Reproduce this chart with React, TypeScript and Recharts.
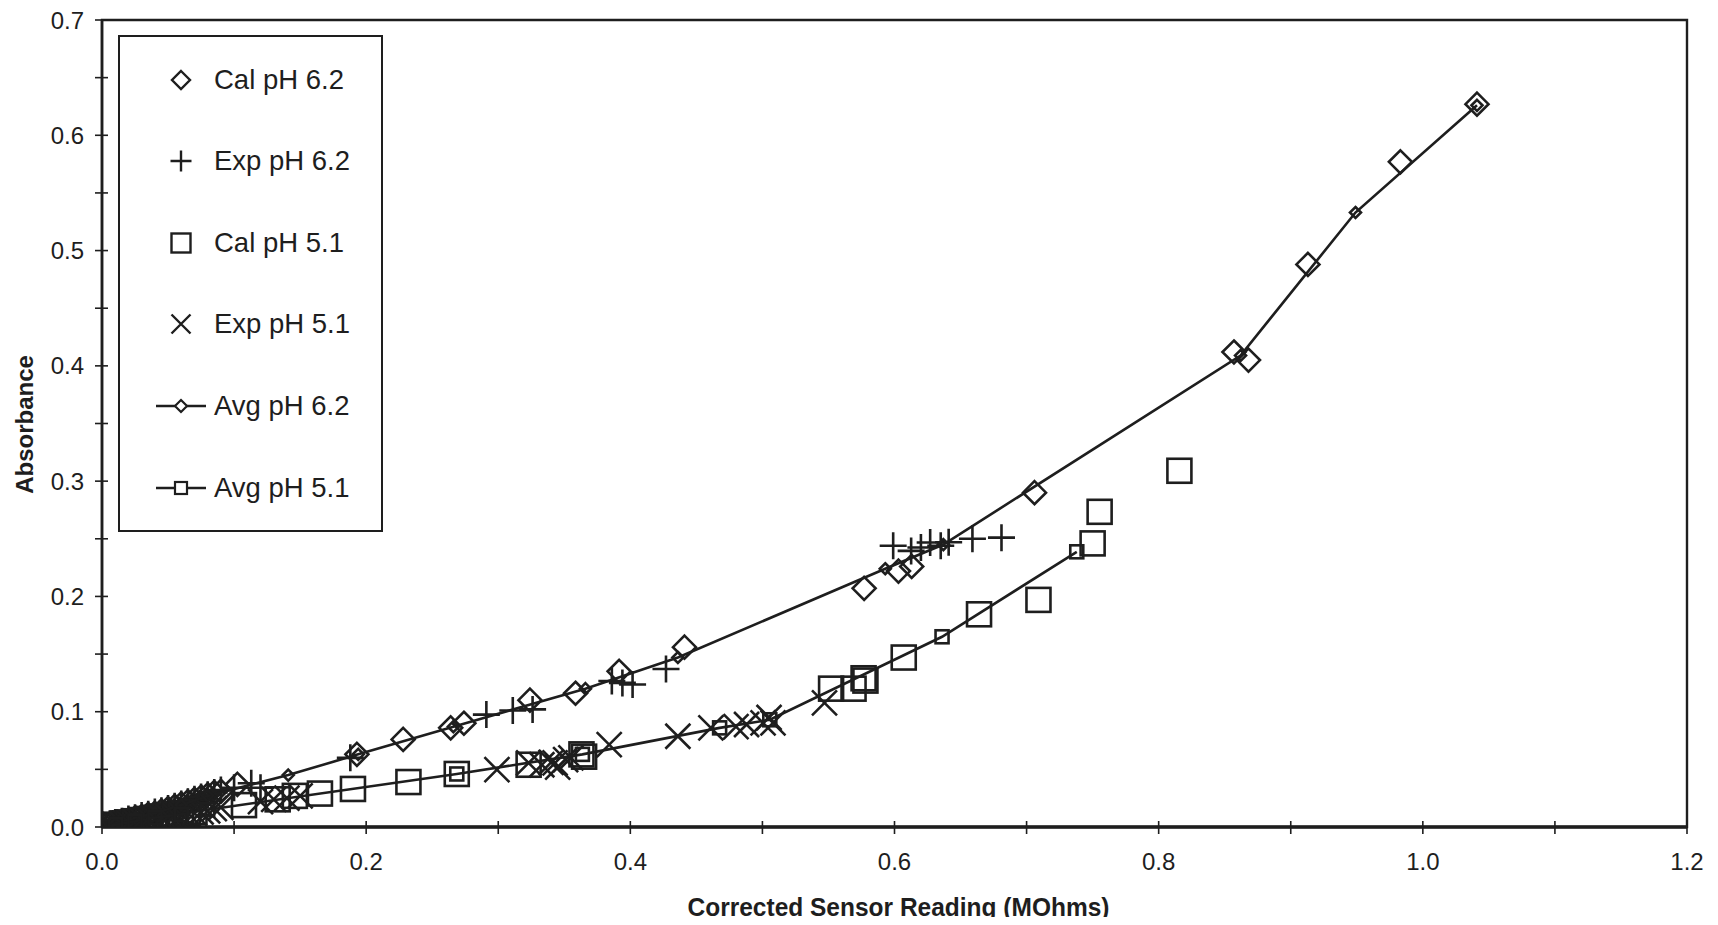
import React from 'react';
import { ScatterChart, Scatter, XAxis, YAxis, ReferenceArea, Legend } from 'recharts';

type P = { x: number; y: number };

const xTicks = [0, 0.1, 0.2, 0.3, 0.4, 0.5, 0.6, 0.7, 0.8, 0.9, 1.0, 1.1, 1.2];
const yTicks = [0, 0.05, 0.1, 0.15, 0.2, 0.25, 0.3, 0.35, 0.4, 0.45, 0.5, 0.55, 0.6, 0.65, 0.7];

const calPh62: P[] = [
  { x: 0.0, y: 0.0 }, { x: 0.006, y: 0.002 }, { x: 0.012, y: 0.004 }, { x: 0.015, y: 0.005 },
  { x: 0.02, y: 0.006 }, { x: 0.025, y: 0.008 }, { x: 0.03, y: 0.009 }, { x: 0.035, y: 0.011 },
  { x: 0.04, y: 0.012 }, { x: 0.045, y: 0.014 }, { x: 0.05, y: 0.016 }, { x: 0.055, y: 0.018 },
  { x: 0.06, y: 0.02 }, { x: 0.065, y: 0.022 }, { x: 0.07, y: 0.024 }, { x: 0.075, y: 0.026 },
  { x: 0.08, y: 0.028 }, { x: 0.085, y: 0.03 }, { x: 0.09, y: 0.031 }, { x: 0.1025, y: 0.037 },
  { x: 0.193, y: 0.063 }, { x: 0.228, y: 0.076 }, { x: 0.264, y: 0.086 }, { x: 0.274, y: 0.09 },
  { x: 0.324, y: 0.11 }, { x: 0.3585, y: 0.116 }, { x: 0.3915, y: 0.135 }, { x: 0.441, y: 0.156 },
  { x: 0.577, y: 0.207 }, { x: 0.603, y: 0.222 }, { x: 0.613, y: 0.226 }, { x: 0.706, y: 0.29 },
  { x: 0.857, y: 0.412 }, { x: 0.868, y: 0.405 }, { x: 0.913, y: 0.488 }, { x: 0.983, y: 0.577 },
  { x: 1.041, y: 0.627 },
];

const expPh62: P[] = [
  { x: 0.0, y: 0.0 }, { x: 0.003, y: 0.001 }, { x: 0.008, y: 0.003 }, { x: 0.01, y: 0.004 },
  { x: 0.015, y: 0.005 }, { x: 0.02, y: 0.007 }, { x: 0.025, y: 0.008 }, { x: 0.03, y: 0.01 },
  { x: 0.035, y: 0.011 }, { x: 0.04, y: 0.013 }, { x: 0.045, y: 0.014 }, { x: 0.05, y: 0.016 },
  { x: 0.055, y: 0.018 }, { x: 0.06, y: 0.02 }, { x: 0.065, y: 0.022 }, { x: 0.07, y: 0.024 },
  { x: 0.075, y: 0.026 }, { x: 0.08, y: 0.028 }, { x: 0.085, y: 0.03 }, { x: 0.09, y: 0.032 },
  { x: 0.1, y: 0.034 }, { x: 0.113, y: 0.038 }, { x: 0.12, y: 0.034 }, { x: 0.188, y: 0.06 },
  { x: 0.291, y: 0.0975 }, { x: 0.311, y: 0.101 }, { x: 0.326, y: 0.102 }, { x: 0.386, y: 0.1266 },
  { x: 0.394, y: 0.125 }, { x: 0.4017, y: 0.1236 }, { x: 0.427, y: 0.137 }, { x: 0.599, y: 0.244 },
  { x: 0.6126, y: 0.2395 }, { x: 0.62, y: 0.2425 }, { x: 0.627, y: 0.2468 }, { x: 0.635, y: 0.244 },
  { x: 0.641, y: 0.247 }, { x: 0.659, y: 0.25 }, { x: 0.681, y: 0.251 },
];

const calPh51: P[] = [
  { x: 0.0, y: 0.001 }, { x: 0.003, y: 0.0 }, { x: 0.008, y: 0.001 }, { x: 0.01, y: 0.002 },
  { x: 0.015, y: 0.003 }, { x: 0.02, y: 0.004 }, { x: 0.025, y: 0.005 }, { x: 0.03, y: 0.006 },
  { x: 0.035, y: 0.007 }, { x: 0.04, y: 0.008 }, { x: 0.045, y: 0.009 }, { x: 0.05, y: 0.01 },
  { x: 0.055, y: 0.011 }, { x: 0.06, y: 0.012 }, { x: 0.065, y: 0.012 }, { x: 0.07, y: 0.013 },
  { x: 0.1075, y: 0.019 }, { x: 0.133, y: 0.024 }, { x: 0.146, y: 0.027 }, { x: 0.165, y: 0.029 },
  { x: 0.19, y: 0.033 }, { x: 0.232, y: 0.039 }, { x: 0.2686, y: 0.046 }, { x: 0.323, y: 0.054 },
  { x: 0.363, y: 0.063 }, { x: 0.365, y: 0.061 }, { x: 0.552, y: 0.12 }, { x: 0.569, y: 0.12 },
  { x: 0.5766, y: 0.129 }, { x: 0.578, y: 0.127 }, { x: 0.607, y: 0.147 }, { x: 0.664, y: 0.1845 },
  { x: 0.709, y: 0.197 }, { x: 0.75, y: 0.246 }, { x: 0.7553, y: 0.2734 }, { x: 0.8157, y: 0.309 },
];

const expPh51: P[] = [
  { x: 0.0, y: 0.0 }, { x: 0.005, y: 0.001 }, { x: 0.01, y: 0.002 }, { x: 0.015, y: 0.003 },
  { x: 0.02, y: 0.004 }, { x: 0.025, y: 0.005 }, { x: 0.03, y: 0.006 }, { x: 0.035, y: 0.007 },
  { x: 0.04, y: 0.007 }, { x: 0.045, y: 0.008 }, { x: 0.05, y: 0.009 }, { x: 0.055, y: 0.01 },
  { x: 0.06, y: 0.011 }, { x: 0.065, y: 0.012 }, { x: 0.07, y: 0.012 }, { x: 0.075, y: 0.013 },
  { x: 0.08, y: 0.014 }, { x: 0.085, y: 0.016 }, { x: 0.09, y: 0.017 }, { x: 0.12, y: 0.022 },
  { x: 0.13, y: 0.024 }, { x: 0.14, y: 0.025 }, { x: 0.15, y: 0.027 }, { x: 0.299, y: 0.0497 },
  { x: 0.323, y: 0.0556 }, { x: 0.333, y: 0.054 }, { x: 0.34, y: 0.056 }, { x: 0.343, y: 0.0556 },
  { x: 0.345, y: 0.052 }, { x: 0.351, y: 0.0585 }, { x: 0.355, y: 0.06 }, { x: 0.384, y: 0.0715 },
  { x: 0.436, y: 0.0787 }, { x: 0.461, y: 0.086 }, { x: 0.48, y: 0.087 }, { x: 0.488, y: 0.0889 },
  { x: 0.5005, y: 0.0903 }, { x: 0.505, y: 0.095 }, { x: 0.508, y: 0.0903 }, { x: 0.547, y: 0.1077 },
];

const avgPh62: P[] = [
  { x: 0.0, y: 0.0 }, { x: 0.01, y: 0.003 }, { x: 0.025, y: 0.008 }, { x: 0.04, y: 0.012 },
  { x: 0.06, y: 0.019 }, { x: 0.08, y: 0.027 }, { x: 0.141, y: 0.045 }, { x: 0.194, y: 0.063 },
  { x: 0.266, y: 0.087 }, { x: 0.366, y: 0.12 }, { x: 0.436, y: 0.147 }, { x: 0.593, y: 0.224 },
  { x: 0.637, y: 0.245 }, { x: 0.862, y: 0.409 }, { x: 0.949, y: 0.533 }, { x: 1.041, y: 0.626 },
];

const avgPh51: P[] = [
  { x: 0.0, y: 0.0 }, { x: 0.01, y: 0.002 }, { x: 0.025, y: 0.005 }, { x: 0.04, y: 0.008 },
  { x: 0.06, y: 0.011 }, { x: 0.08, y: 0.015 }, { x: 0.2686, y: 0.046 }, { x: 0.3637, y: 0.063 },
  { x: 0.4676, y: 0.086 }, { x: 0.5056, y: 0.093 }, { x: 0.636, y: 0.165 }, { x: 0.738, y: 0.2387 },
];

const legendItems = ['Cal pH 6.2', 'Exp pH 6.2', 'Cal pH 5.1', 'Exp pH 5.1', 'Avg pH 6.2', 'Avg pH 5.1'];

const INK = '#1e1e1e';
const FONT = '"Liberation Sans", Arial, Helvetica, sans-serif';
const MW = 2.6;

const diamondPath = (cx: number, cy: number, r: number) =>
  `M${cx},${cy - r}L${cx + r},${cy}L${cx},${cy + r}L${cx - r},${cy}Z`;

const Diamond = ({ cx, cy, r, w = MW }: { cx: number; cy: number; r: number; w?: number }) => (
  <path d={diamondPath(cx, cy, r)} fill="none" stroke={INK} strokeWidth={w} />
);
const Square = ({ cx, cy, r, w = MW }: { cx: number; cy: number; r: number; w?: number }) => (
  <rect x={cx - r} y={cy - r} width={2 * r} height={2 * r} fill="none" stroke={INK} strokeWidth={w} />
);
const Plus = ({ cx, cy, r, w = MW }: { cx: number; cy: number; r: number; w?: number }) => (
  <path d={`M${cx - r},${cy}H${cx + r}M${cx},${cy - r}V${cy + r}`} stroke={INK} strokeWidth={w} fill="none" />
);
const Cross = ({ cx, cy, r, w = MW }: { cx: number; cy: number; r: number; w?: number }) => (
  <path d={`M${cx - r},${cy - r}L${cx + r},${cy + r}M${cx + r},${cy - r}L${cx - r},${cy + r}`} stroke={INK} strokeWidth={w} fill="none" />
);

const shapeOf = (kind: string, r: number) => (props: any) => {
  const { cx, cy } = props;
  if (cx == null || cy == null) return <g />;
  if (kind === 'diamond') return <Diamond cx={cx} cy={cy} r={r} />;
  if (kind === 'square') return <Square cx={cx} cy={cy} r={r} />;
  if (kind === 'plus') return <Plus cx={cx} cy={cy} r={r} />;
  return <Cross cx={cx} cy={cy} r={r} />;
};

const XTick = (props: any) => {
  const { x, y, payload } = props;
  const v = payload.value as number;
  const major = Math.round(v * 10) % 2 === 0;
  return (
    <g>
      <line x1={x} x2={x} y1={y - 6} y2={y + 7} stroke={INK} strokeWidth={1.6} />
      {major && (
        <text x={x} y={y + 34} textAnchor="middle" dominantBaseline="central" fontFamily={FONT} fontSize={24} fill={INK}>
          {v.toFixed(1)}
        </text>
      )}
    </g>
  );
};

const YTick = (props: any) => {
  const { x, y, payload } = props;
  const v = payload.value as number;
  const major = Math.round(v * 100) % 10 === 0;
  const ax = x + 18;
  return (
    <g>
      <line x1={ax - 7} x2={ax + 6} y1={y} y2={y} stroke={INK} strokeWidth={1.6} />
      {major && (
        <text x={x} y={y} textAnchor="end" dominantBaseline="central" fontFamily={FONT} fontSize={24} fill={INK}>
          {v.toFixed(1)}
        </text>
      )}
    </g>
  );
};

const LegendIcon = ({ idx }: { idx: number }) => {
  const cx = 30;
  const cy = 17;
  let body: React.ReactNode = null;
  if (idx === 0) body = <Diamond cx={cx} cy={cy} r={9} w={2.4} />;
  else if (idx === 1) body = <Plus cx={cx} cy={cy} r={10.5} w={2.4} />;
  else if (idx === 2) body = <Square cx={cx} cy={cy} r={9.5} w={2.4} />;
  else if (idx === 3) body = <Cross cx={cx} cy={cy} r={9.5} w={2.4} />;
  else if (idx === 4)
    body = (
      <g>
        <line x1={5} x2={55} y1={cy} y2={cy} stroke={INK} strokeWidth={2.4} />
        <path d={diamondPath(cx, cy, 6)} fill="#fff" stroke={INK} strokeWidth={2.2} />
      </g>
    );
  else
    body = (
      <g>
        <line x1={5} x2={55} y1={cy} y2={cy} stroke={INK} strokeWidth={2.4} />
        <rect x={cx - 6} y={cy - 6} width={12} height={12} fill="#fff" stroke={INK} strokeWidth={2.2} />
      </g>
    );
  return (
    <svg width={60} height={34} style={{ position: 'absolute', left: 31, top: 0 }}>
      {body}
    </svg>
  );
};

const LegendBox = () => (
  <div
    style={{
      width: 265,
      height: 497,
      boxSizing: 'border-box',
      border: `2.5px solid ${INK}`,
      background: '#fff',
      position: 'relative',
      fontFamily: FONT,
    }}
  >
    {legendItems.map((name, i) => (
      <div key={name} style={{ position: 'absolute', left: 0, top: 45 + i * 81.6 - 17 - 2.5, width: 260, height: 34 }}>
        <LegendIcon idx={i} />
        <div style={{ position: 'absolute', left: 94, top: 0, height: 34, lineHeight: '34px', fontSize: 27.5, color: INK, whiteSpace: 'nowrap' }}>
          {name}
        </div>
      </div>
    ))}
  </div>
);

const XTitle = (props: any) => {
  const vb = props.viewBox || { x: 102, y: 827, width: 1585, height: 98 };
  return (
    <text
      x={vb.x + vb.width / 2 + 4}
      y={vb.y + 80}
      textAnchor="middle"
      dominantBaseline="central"
      fontFamily={FONT}
      fontWeight="bold"
      fontSize={25}
      fill={INK}
      textLength={422}
      lengthAdjust="spacingAndGlyphs"
    >
      Corrected Sensor Reading (MOhms)
    </text>
  );
};

const YTitle = (props: any) => {
  const vb = props.viewBox || { x: 0, y: 20, width: 102, height: 807 };
  const cx = 24;
  const cy = vb.y + vb.height / 2 + 1;
  return (
    <text
      x={cx}
      y={cy}
      transform={`rotate(-90 ${cx} ${cy})`}
      textAnchor="middle"
      dominantBaseline="central"
      fontFamily={FONT}
      fontWeight="bold"
      fontSize={24}
      fill={INK}
    >
      Absorbance
    </text>
  );
};

export default function App() {
  return (
    <div style={{ width: 1718, height: 925, margin: '-8px -8px -8px -8px', background: '#fff', overflow: 'hidden' }}>
      <ScatterChart width={1718} height={925} margin={{ top: 20, right: 31, left: 0, bottom: 0 }}>
        <XAxis
          type="number"
          dataKey="x"
          domain={[0, 1.2]}
          ticks={xTicks}
          interval={0}
          tickSize={0}
          tickMargin={0}
          tick={<XTick />}
          height={98}
          axisLine={{ stroke: INK, strokeWidth: 3.5 }}
          tickLine={false}
          allowDataOverflow
          label={<XTitle />}
        />
        <YAxis
          type="number"
          dataKey="y"
          domain={[0, 0.7]}
          ticks={yTicks}
          interval={0}
          tickSize={0}
          tickMargin={18}
          tick={<YTick />}
          width={102}
          axisLine={{ stroke: INK, strokeWidth: 2.6 }}
          tickLine={false}
          allowDataOverflow
          label={<YTitle />}
        />
        <ReferenceArea x1={0} x2={1.2} y1={0} y2={0.7} fill="none" fillOpacity={0} stroke={INK} strokeWidth={2.4} />
        <Legend
          layout="vertical"
          align="center"
          verticalAlign="middle"
          content={() => <LegendBox />}
          wrapperStyle={{ left: 118, top: 35, width: 265, height: 497 }}
        />
        <Scatter name="Cal pH 6.2" data={calPh62} shape={shapeOf('diamond', 11.5)} isAnimationActive={false} />
        <Scatter name="Exp pH 6.2" data={expPh62} shape={shapeOf('plus', 13.5)} isAnimationActive={false} />
        <Scatter name="Cal pH 5.1" data={calPh51} shape={shapeOf('square', 12)} isAnimationActive={false} />
        <Scatter name="Exp pH 5.1" data={expPh51} shape={shapeOf('cross', 12.5)} isAnimationActive={false} />
        <Scatter
          name="Avg pH 6.2"
          data={avgPh62}
          line={{ stroke: INK, strokeWidth: 2.6 }}
          lineType="joint"
          shape={shapeOf('diamond', 5.5)}
          isAnimationActive={false}
        />
        <Scatter
          name="Avg pH 5.1"
          data={avgPh51}
          line={{ stroke: INK, strokeWidth: 2.6 }}
          lineType="joint"
          shape={shapeOf('square', 6.5)}
          isAnimationActive={false}
        />
      </ScatterChart>
    </div>
  );
}
